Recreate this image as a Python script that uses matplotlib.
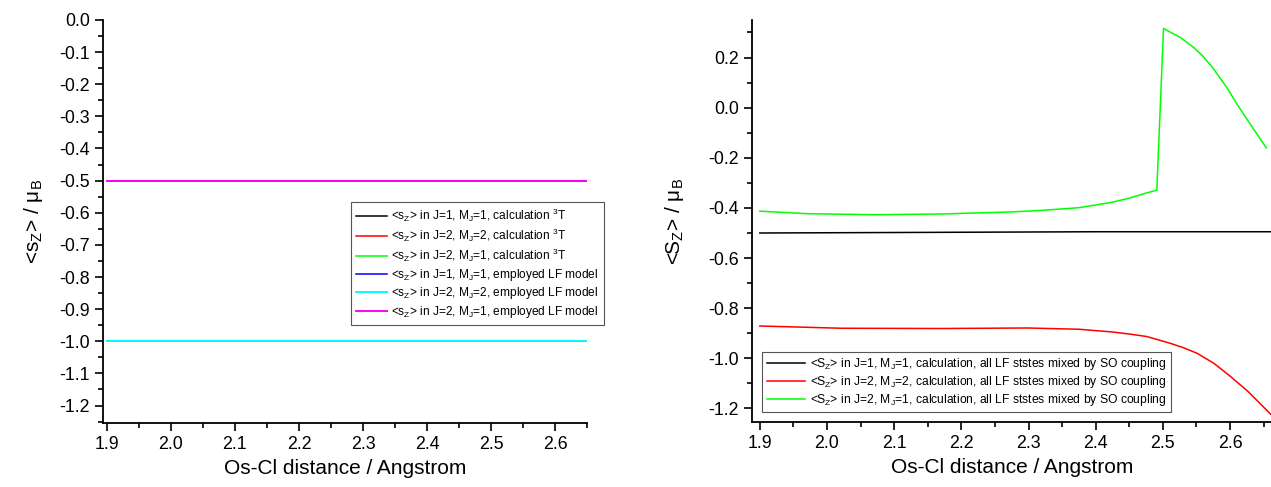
import numpy as np
import matplotlib
matplotlib.use('Agg')
import matplotlib.pyplot as plt
from matplotlib.ticker import MultipleLocator, FuncFormatter

plt.rcParams['font.family'] = ['Liberation Sans', 'DejaVu Sans']
plt.rcParams['mathtext.fontset'] = 'custom'
plt.rcParams['mathtext.rm'] = 'Liberation Sans'
plt.rcParams['mathtext.it'] = 'Liberation Sans:italic'

# left panel: constant values
x_left = [1.9, 2.65]
calc_j1m1 = [-0.5, -0.5]
calc_j2m2 = [-1.0, -1.0]
calc_j2m1 = [-0.5, -0.5]
lf_j1m1 = [-0.5, -0.5]
lf_j2m2 = [-1.0, -1.0]
lf_j2m1 = [-0.5, -0.5]

# right panel
x_black = [1.9, 2.0, 2.1, 2.2, 2.3, 2.4, 2.5, 2.6, 2.661]
y_black = [-0.500, -0.499, -0.498, -0.497, -0.496, -0.495, -0.495, -0.495, -0.495]

x_red = [1.9, 2.021, 2.172, 2.299, 2.375, 2.425, 2.45, 2.476, 2.511, 2.531, 2.551,
         2.576, 2.601, 2.627, 2.652, 2.661]
y_red = [-0.871, -0.880, -0.881, -0.879, -0.884, -0.895, -0.903, -0.913, -0.940,
         -0.958, -0.980, -1.020, -1.073, -1.133, -1.200, -1.224]

x_green = [1.9, 1.971, 2.072, 2.173, 2.274, 2.324, 2.375, 2.425, 2.45, 2.476,
           2.491, 2.501, 2.526, 2.546, 2.559, 2.572, 2.584, 2.597, 2.609, 2.622,
           2.637, 2.654]
y_green = [-0.413, -0.423, -0.427, -0.424, -0.416, -0.409, -0.399, -0.377, -0.361,
           -0.340, -0.329, 0.316, 0.280, 0.240, 0.207, 0.167, 0.123, 0.073, 0.020,
           -0.033, -0.093, -0.160]

fig = plt.figure(figsize=(12.71, 4.87), dpi=100)
ax1 = fig.add_axes([0.081, 0.131, 0.381, 0.828])
ax2 = fig.add_axes([0.592, 0.133, 0.408, 0.826])

lw = 1.1
ax1.plot(x_left, calc_j1m1, color='black', lw=lw, label=r'<s$_\mathregular{Z}$> in J=1, M$_\mathregular{J}$=1, calculation $^\mathregular{3}$T')
ax1.plot(x_left, calc_j2m2, color='red', lw=lw, label=r'<s$_\mathregular{Z}$> in J=2, M$_\mathregular{J}$=2, calculation $^\mathregular{3}$T')
ax1.plot(x_left, calc_j2m1, color='#00ff00', lw=lw, label=r'<s$_\mathregular{Z}$> in J=2, M$_\mathregular{J}$=1, calculation $^\mathregular{3}$T')
ax1.plot(x_left, lf_j1m1, color='blue', lw=lw, label=r'<s$_\mathregular{Z}$> in J=1, M$_\mathregular{J}$=1, employed LF model')
ax1.plot(x_left, lf_j2m2, color='cyan', lw=1.4, label=r'<s$_\mathregular{Z}$> in J=2, M$_\mathregular{J}$=2, employed LF model')
ax1.plot(x_left, lf_j2m1, color='magenta', lw=1.4, label=r'<s$_\mathregular{Z}$> in J=2, M$_\mathregular{J}$=1, employed LF model')

ax2.plot(x_black, y_black, color='black', lw=lw, label=r'<S$_\mathregular{Z}$> in J=1, M$_\mathregular{J}$=1, calculation, all LF ststes mixed by SO coupling')
ax2.plot(x_red, y_red, color='red', lw=lw, label=r'<S$_\mathregular{Z}$> in J=2, M$_\mathregular{J}$=2, calculation, all LF ststes mixed by SO coupling')
ax2.plot(x_green, y_green, color='#00ff00', lw=lw, label=r'<S$_\mathregular{Z}$> in J=2, M$_\mathregular{J}$=1, calculation, all LF ststes mixed by SO coupling')

ax1.set_xlim(1.894, 2.65)
ax1.set_ylim(-1.255, 0.0)
ax1.yaxis.set_major_locator(MultipleLocator(0.1))
ax1.yaxis.set_minor_locator(MultipleLocator(0.05))
ax1.set_ylabel(r'<s$_\mathregular{Z}$> / $\mathregular{\mu_B}$', fontsize=15, labelpad=10)

ax2.set_xlim(1.889, 2.661)
ax2.set_ylim(-1.255, 0.35)
ax2.yaxis.set_major_locator(MultipleLocator(0.2))
ax2.yaxis.set_minor_locator(MultipleLocator(0.1))
ax2.set_ylabel(r'<S$_\mathregular{Z}$> / $\mathregular{\mu_B}$', fontsize=15, labelpad=16)

fmt = FuncFormatter(lambda v, p: ('%.1f' % v).replace('-0.0', '0.0'))
for ax in (ax1, ax2):
    ax.xaxis.set_major_locator(MultipleLocator(0.1))
    ax.xaxis.set_minor_locator(MultipleLocator(0.05))
    ax.xaxis.set_major_formatter(fmt)
    ax.yaxis.set_major_formatter(fmt)
    ax.spines['top'].set_visible(False)
    ax.spines['right'].set_visible(False)
    ax.spines['left'].set_linewidth(1.3)
    ax.spines['bottom'].set_linewidth(1.3)
    ax.tick_params(which='major', direction='out', length=6, width=1.2, labelsize=12.8)
    ax.tick_params(which='minor', direction='out', length=3.5, width=1.2)
    ax.set_xlabel('Os-Cl distance / Angstrom', fontsize=15)

leg1 = ax1.legend(loc='upper left', bbox_to_anchor=(0.512, 0.548), fontsize=8.6,
                  fancybox=False, edgecolor='#555555', framealpha=1, handlelength=2.6,
                  handletextpad=0.4, borderaxespad=0, labelspacing=0.22)
leg1.get_frame().set_linewidth(0.8)
leg2 = ax2.legend(loc='upper left', bbox_to_anchor=(0.019, 0.174), fontsize=8.7,
                  fancybox=False, edgecolor='#555555', framealpha=1, handlelength=3.2,
                  handletextpad=0.4, borderaxespad=0, labelspacing=0.15, borderpad=0.35)
leg2.get_frame().set_linewidth(0.8)

fig.savefig('out.png', dpi=100)
